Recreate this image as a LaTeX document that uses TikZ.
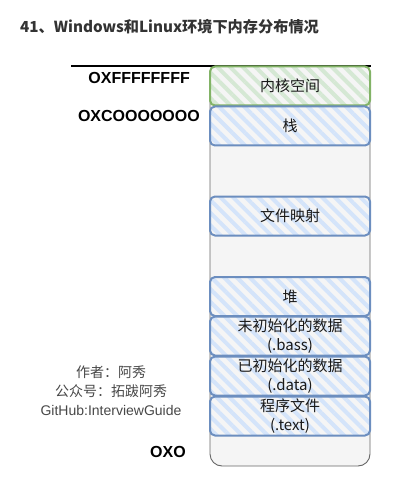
\documentclass[tikz,border=0pt]{standalone}
\usepackage{fontspec}
\setmainfont{Liberation Sans}
\newfontfamily\cjk{Noto Sans CJK SC}
\usetikzlibrary{patterns.meta,positioning,fit}
\definecolor{greyfill}{HTML}{F5F5F5}
\definecolor{greyline}{HTML}{666666}
\definecolor{blueline}{HTML}{6C8EBF}
\definecolor{bluehatch}{HTML}{D4E4FA}
\definecolor{greenline}{HTML}{82B366}
\definecolor{greenhatch}{HTML}{D5E8D4}
\definecolor{titlecol}{HTML}{333333}
\tikzset{
  memblock/.style={draw=blueline, line width=2pt, rounded corners=5pt,
    fill=greyfill,
    minimum width=160pt, inner sep=0pt, align=center,
    font=\fontsize{15}{18.5}\selectfont\cjk, text=black!90},
  bluehatchfill/.style={pattern={Lines[angle=-45,distance=9pt,line width=4pt]}, pattern color=bluehatch},
  greenhatchfill/.style={pattern={Lines[angle=-45,distance=9pt,line width=4pt]}, pattern color=greenhatch},
  addr/.style={font=\fontsize{16}{18}\selectfont\bfseries, text=black, inner sep=0pt},
  note/.style={font=\fontsize{14}{16}\selectfont\cjk, text=titlecol!90, inner sep=0pt},
}
\begin{document}
\begin{tikzpicture}[x=1pt,y=-1pt]
\useasboundingbox (0,0) rectangle (417,486);
\node[anchor=west, inner sep=0pt, text=titlecol, font=\fontsize{15.2}{17}\selectfont\cjk\bfseries] (title) at (20,27) {41、Windows和Linux环境下内存分布情况};
% outer memory column
\coordinate (otl) at (210,66);
\coordinate (obr) at (370,466);
\draw[greyline, line width=0.9pt, fill=greyfill, rounded corners=12pt] (otl) rectangle (obr);
% top line
\coordinate (lineL) at (71,66);
\coordinate (lineR) at (371,66);
\draw[black, line width=2pt] (lineL) -- (lineR);
% blocks
\node[memblock, draw=greenline, minimum height=39pt, greenhatchfill, preaction={fill=greyfill}] (kernel) at (290,86) {内核空间};
\foreach \nm/\y/\txt in {stack/126/栈, fmap/216/文件映射, heap/296.5/堆, bss/336/{未初始化的数据\\(.bass)}, data/376/{已初始化的数据\\(.data)}, text/416/{程序文件\\(.text)}}{
  \node[memblock, minimum height=39pt, bluehatchfill, preaction={fill=greyfill}] (\nm) at (290,\y) {\txt};
}
% address labels
\node[addr, anchor=east] (a1) at (190,78) {OXFFFFFFFF};
\node[addr, anchor=east] (a2) at (200,116) {OXCOOOOOOO};
\node[addr, anchor=east] (a3) at (186,452) {OXO};
% notes
\node[note] (n1) at (111,372) {作者：阿秀};
\node[note] (n2) at (111,391) {公众号：拓跋阿秀};
\node[note, font=\fontsize{14}{16}\selectfont] (n3) at (111,410) {GitHub:InterviewGuide};
\end{tikzpicture}
\end{document}
